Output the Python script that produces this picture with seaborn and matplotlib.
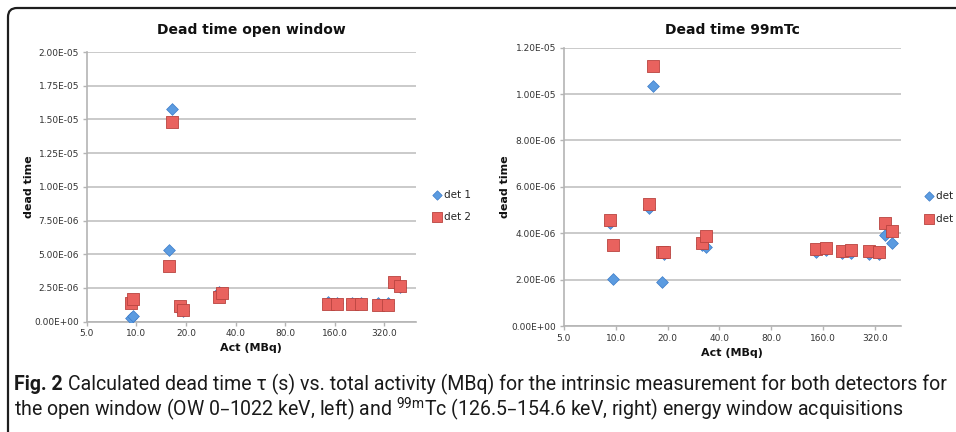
import numpy as np
import pandas as pd
import seaborn as sns
import matplotlib.pyplot as plt
from matplotlib import font_manager
from matplotlib.patches import FancyBboxPatch
from matplotlib.transforms import IdentityTransform
from matplotlib.ticker import FuncFormatter, NullLocator

# activity of each acquisition (MBq)
act = [9.3, 9.6, 15.7, 16.4, 18.5, 19.2, 31.6, 33.3, 145, 166, 205, 231, 294, 337, 365, 401]

# dead time (s), open window
ow_det1 = [0.30e-6, 0.45e-6, 5.30e-6, 15.8e-6, 0.85e-6, 0.80e-6, 2.20e-6, 2.05e-6,
           1.45e-6, 1.40e-6, 1.38e-6, 1.40e-6, 1.35e-6, 1.35e-6, 2.90e-6, 2.60e-6]
ow_det2 = [1.36e-6, 1.66e-6, 4.10e-6, 14.8e-6, 1.16e-6, 0.87e-6, 1.85e-6, 2.10e-6,
           1.31e-6, 1.29e-6, 1.29e-6, 1.31e-6, 1.26e-6, 1.22e-6, 2.97e-6, 2.67e-6]

# dead time (s), 99mTc window
tc_det1 = [4.45e-6, 2.01e-6, 5.10e-6, 10.36e-6, 1.88e-6, 3.10e-6, 3.50e-6, 3.39e-6,
           3.20e-6, 3.28e-6, 3.15e-6, 3.15e-6, 3.10e-6, 3.10e-6, 3.91e-6, 3.56e-6]
tc_det2 = [4.57e-6, 3.49e-6, 5.26e-6, 11.21e-6, 3.18e-6, 3.18e-6, 3.59e-6, 3.89e-6,
           3.30e-6, 3.35e-6, 3.25e-6, 3.28e-6, 3.23e-6, 3.20e-6, 4.45e-6, 4.11e-6]

x_ticks = [5, 10, 20, 40, 80, 160, 320]

caption_bold = 'Fig. 2'
caption_1 = 'Calculated dead time τ (s) vs. total activity (MBq) for the intrinsic measurement for both detectors for'
caption_2 = 'the open window (OW 0–1022 keV, left) and $^{99m}$Tc (126.5–154.6 keV, right) energy window acquisitions'

blue, blue_edge = '#5b9be0', '#3d7cc9'
red, red_edge = '#e9625e', '#b9443f'

sns.set_style('white')
plt.rcParams['font.family'] = ['DejaVu Sans']
plt.rcParams['mathtext.default'] = 'regular'


def pick_font(names):
    for n in names:
        try:
            font_manager.findfont(n, fallback_to_default=False)
            return n
        except Exception:
            pass
    return 'DejaVu Sans'


cap_font = pick_font(['Liberation Sans Narrow', 'Roboto', 'Open Sans'])

W, H = 956, 432
fig = plt.figure(figsize=(W / 100, H / 100), dpi=100)


def panel(rect, d1, d2, title, ymax, ystep, xmax, title_pad, leg_anchor):
    ax = fig.add_axes(rect)
    sns.scatterplot(x=act, y=d1, marker='D', s=36, color=blue, edgecolor=blue_edge,
                    linewidth=0.5, ax=ax, label='det 1', zorder=3)
    sns.scatterplot(x=act, y=d2, marker='s', s=72, color=red, edgecolor=red_edge,
                    linewidth=0.6, ax=ax, label='det 2', zorder=4)
    ax.set_xscale('log', base=2)
    ax.set_xlim(5, xmax)
    ax.set_xticks(x_ticks)
    ax.xaxis.set_minor_locator(NullLocator())
    ax.xaxis.set_major_formatter(FuncFormatter(lambda v, p: f'{v:.1f}'))
    ax.set_ylim(0, ymax)
    ax.set_yticks(np.arange(0, ymax + ystep / 2, ystep))
    ax.yaxis.set_major_formatter(FuncFormatter(lambda v, p: f'{v:.2E}'))
    ax.yaxis.grid(True, color='#c6c6c6', lw=1.3)
    ax.xaxis.grid(False)
    ax.set_axisbelow(True)
    for s in ['top', 'right']:
        ax.spines[s].set_visible(False)
    for s in ['left', 'bottom']:
        ax.spines[s].set_color('#b4b4b4')
        ax.spines[s].set_linewidth(1.2)
    ax.tick_params(axis='both', direction='out', length=3, width=1, color='#b4b4b4',
                   labelsize=6.5, labelcolor='#333333', pad=2.5, left=True, bottom=True)
    ax.set_title(title, fontsize=10, fontweight='bold', pad=title_pad, color='#111111')
    ax.set_ylabel('dead time', fontsize=8, fontweight='bold', color='#111111')
    ax.yaxis.set_label_coords(-0.16, 0.5)
    ax.set_xlabel('Act (MBq)', fontsize=8, fontweight='bold', color='#111111')
    ax.xaxis.set_label_coords(0.5, -0.08)
    ax.legend(loc='upper left', bbox_to_anchor=leg_anchor, frameon=False, fontsize=7.5,
              handletextpad=0.1, labelspacing=1.2, handlelength=1.0,
              borderpad=0, borderaxespad=0, markerscale=0.8)
    return ax


panel([86.7 / W, 1 - 321.7 / H, 329 / W, 269.7 / H], ow_det1, ow_det2,
      'Dead time open window', 2.0e-5, 2.5e-6, 496, 13, (1.05, 0.49))
panel([563.7 / W, 1 - 326 / H, 337 / W, 278.3 / H], tc_det1, tc_det2,
      'Dead time 99mTc', 1.2e-5, 2.0e-6, 450, 10, (1.07, 0.485))

# frame around figure (only top and left edges visible, as in the crop)
frame = FancyBboxPatch((8, -30), 1100, H - 8 + 30, boxstyle='round,pad=0,rounding_size=9',
                       transform=IdentityTransform(), fill=False, ec='#1e1e1e', lw=1.6)
fig.add_artist(frame)

# caption, sized so that the first line spans the width seen in the figure
r = fig.canvas.get_renderer()
size = 12.0
fam = [cap_font, 'DejaVu Sans']
tb = fig.text(0, 0, caption_bold + ' ', fontsize=size, fontweight='bold', family=fam)
tr = fig.text(0, 0, caption_1, fontsize=size, family=fam)
width = tb.get_window_extent(r).width + tr.get_window_extent(r).width
tb.remove()
tr.remove()
size = size * 930 / width

t1 = fig.text(14 / W, 1 - 390 / H, caption_bold, fontsize=size, fontweight='bold',
              family=fam, color='#1a1a1a', va='baseline')
x1 = t1.get_window_extent(r).x1
fig.text((x1 + 5) / W, 1 - 390 / H, caption_1,
         fontsize=size, family=fam, color='#1a1a1a', va='baseline')
fig.text(14 / W, 1 - 416 / H, caption_2,
         fontsize=size, family=fam, color='#1a1a1a', va='baseline')

fig.savefig('out.png', dpi=100, facecolor='white')
print(cap_font, size)
